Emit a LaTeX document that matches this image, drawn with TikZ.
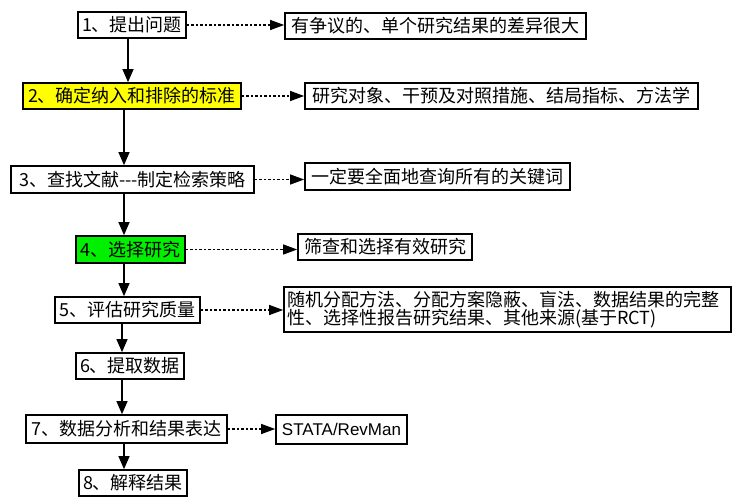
\documentclass[tikz,border=0pt]{standalone}
\usepackage{fontspec}
\setmainfont{Noto Sans CJK SC}
\newfontfamily\latinsans{Liberation Sans}
\usetikzlibrary{arrows.meta}
\definecolor{boxyellow}{RGB}{255,255,0}
\definecolor{boxgreen}{RGB}{0,240,0}
\tikzset{
  box/.style={draw=black, line width=1.7pt, inner sep=0pt, align=center,
    font=\fontsize{18}{18}\selectfont, anchor=center},
  arr/.style={line width=1.2pt, -{Triangle[length=13pt,width=11pt]}},
  darr/.style={line width=1.2pt, dash pattern=on 2.5pt off 2pt,
    -{Triangle[length=14pt,width=10pt]}}
}
\begin{document}
\begin{tikzpicture}[x=1pt,y=-1pt]
\useasboundingbox (0,0) rectangle (739,500);
% left column
\node[box, minimum width=108pt, minimum height=26pt] (s1) at (132,25) {1、提出问题};
\node[box, fill=boxyellow, minimum width=218pt, minimum height=26pt] (s2) at (132,96) {2、确定纳入和排除的标准};
\node[box, minimum width=243pt, minimum height=27pt] (s3) at (132.5,179.5) {3、查找文献\mbox{-}\mbox{-}\mbox{-}制定检索策略};
\node[box, fill=boxgreen, minimum width=109pt, minimum height=27pt] (s4) at (130.5,249.5) {4、选择研究};
\node[box, minimum width=145pt, minimum height=26pt] (s5) at (127.5,310) {5、评估研究质量};
\node[box, minimum width=108pt, minimum height=26pt] (s6) at (130,366) {6、提取数据};
\node[box, minimum width=201pt, minimum height=28pt] (s7) at (126.5,429) {7、数据分析和结果表达};
\node[box, minimum width=108pt, minimum height=26pt] (s8) at (133,483) {8、解释结果};
% right column
\node[box, minimum width=301pt, minimum height=26pt] (r1) at (435.5,26) {有争议的、单个研究结果的差异很大};
\node[box, minimum width=393pt, minimum height=26pt] (r2) at (501.5,96) {研究对象、干预及对照措施、结局指标、方法学};
\node[box, minimum width=265pt, minimum height=27pt] (r3) at (437.5,176.5) {一定要全面地查询所有的关键词};
\node[box, minimum width=174pt, minimum height=26pt] (r4) at (385,247) {筛查和选择有效研究};
\node[box, inner xsep=3pt, text width=441pt, align=left, minimum height=45pt] (r5) at (507.5,309.5)
  {随机分配方法、分配方案隐蔽、盲法、数据结果的完整\\性、选择性报告研究结果、其他来源(基于RCT)};
\node[box, minimum width=131pt, minimum height=29pt, font=\latinsans\fontsize{17}{17}\selectfont] (r7) at (341.5,429.5) {STATA/RevMan};
% spine coordinates
\coordinate (c1) at (128,0);
\coordinate (c2) at (124,0);
\coordinate (c5) at (122,0);
% solid arrows
\draw[arr] (s1.south -| c1) -- (s2.north -| c1);
\draw[arr] (s2.south -| c2) -- (s3.north -| c2);
\draw[arr] (s3.south -| c2) -- (s4.north -| c2);
\draw[arr] (s4.south -| c2) -- (s5.north -| c2);
\draw[arr] (s5.south -| c5) -- (s6.north -| c5);
\draw[arr] (s6.south -| c5) -- (s7.north -| c5);
\draw[arr] (s7.south -| c2) -- (s8.north -| c2);
% dotted arrows
\draw[darr] (s1.east) -- (s1.east -| r1.west);
\draw[darr] (s2.east) -- (s2.east -| r2.west);
\draw[darr] (s3.east) -- (s3.east -| r3.west);
\draw[darr] (s4.east) -- (s4.east -| r4.west);
\draw[darr] (s5.east) -- (s5.east -| r5.west);
\draw[darr] (s7.east) -- (s7.east -| r7.west);
\end{tikzpicture}
\end{document}
